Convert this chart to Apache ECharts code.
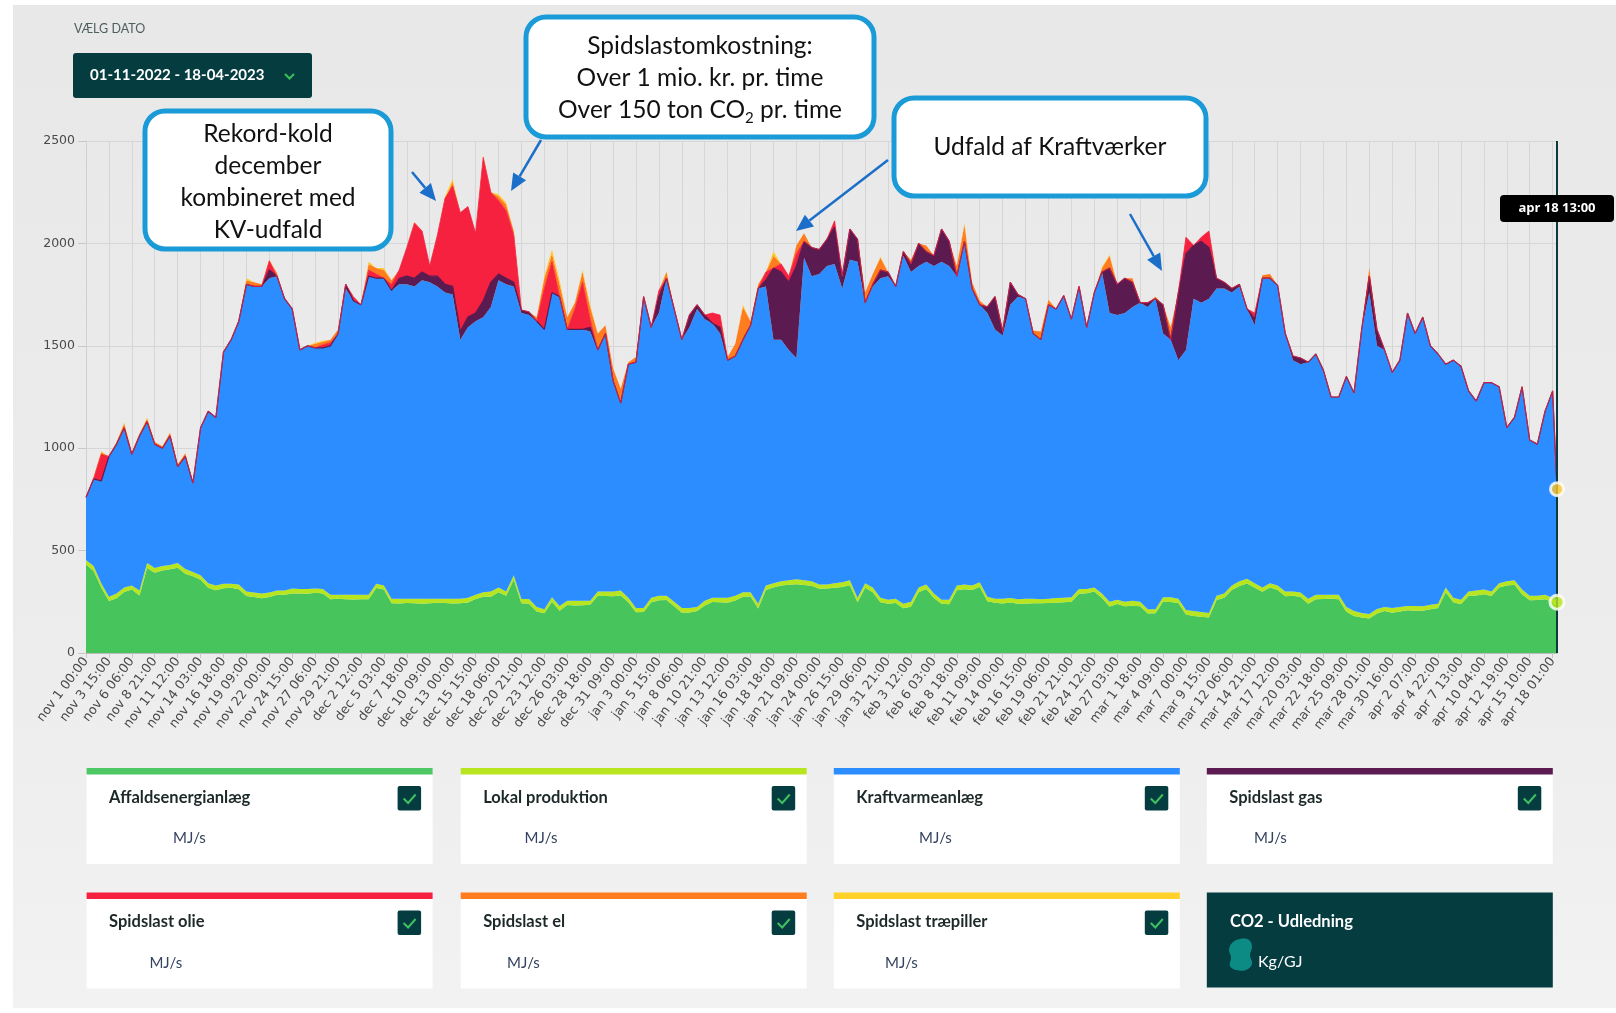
<!DOCTYPE html>
<html><head><meta charset="utf-8">
<script src="https://cdn.jsdelivr.net/npm/echarts@6/dist/echarts.min.js"></script>
<style>
html,body{margin:0;padding:0;background:#fff;width:1616px;height:1013px;overflow:hidden}
#bg{position:absolute;left:13px;top:5px;width:1603px;height:1003px;background:linear-gradient(#e8e8e8,#ececec 60%,#f2f2f2)}
#c{position:absolute;left:0;top:0;width:1616px;height:1013px}
</style></head>
<body><div id="bg"></div><div id="c"></div>
<script>
// ---- x-axis tick labels (one every 63 hours from nov 1 00:00) ----
const tickLabels = ["nov 1 00:00","nov 3 15:00","nov 6 06:00","nov 8 21:00","nov 11 12:00","nov 14 03:00","nov 16 18:00","nov 19 09:00","nov 22 00:00","nov 24 15:00","nov 27 06:00","nov 29 21:00","dec 2 12:00","dec 5 03:00","dec 7 18:00","dec 10 09:00","dec 13 00:00","dec 15 15:00","dec 18 06:00","dec 20 21:00","dec 23 12:00","dec 26 03:00","dec 28 18:00","dec 31 09:00","jan 3 00:00","jan 5 15:00","jan 8 06:00","jan 10 21:00","jan 13 12:00","jan 16 03:00","jan 18 18:00","jan 21 09:00","jan 24 00:00","jan 26 15:00","jan 29 06:00","jan 31 21:00","feb 3 12:00","feb 6 03:00","feb 8 18:00","feb 11 09:00","feb 14 00:00","feb 16 15:00","feb 19 06:00","feb 21 21:00","feb 24 12:00","feb 27 03:00","mar 1 18:00","mar 4 09:00","mar 7 00:00","mar 9 15:00","mar 12 06:00","mar 14 21:00","mar 17 12:00","mar 20 03:00","mar 22 18:00","mar 25 09:00","mar 28 01:00","mar 30 16:00","apr 2 07:00","apr 4 22:00","apr 7 13:00","apr 10 04:00","apr 12 19:00","apr 15 10:00","apr 18 01:00"];
const yTicks = [0,500,1000,1500,2000,2500];
const TICK_HOURS = 63;      // label spacing
const STEP_HOURS = 21;      // sample spacing of the arrays below
const END_HOUR = 4044;      // apr 18 13:00 (last sample)
const endLabel = "apr 18 13:00";

// ---- series values (MJ/s), one value per 21 h sample, last one at apr 18 13:00 ----
const affald = [432,401,320,254,267,298,310,281,415,392,403,409,416,387,375,358,319,307,316,318,311,278,274,267,273,285,284,291,290,289,294,290,262,265,263,261,262,263,317,310,243,242,244,243,241,243,245,244,242,243,246,264,275,275,297,280,358,243,241,203,194,250,206,234,232,233,235,279,278,277,281,248,199,200,248,257,259,228,196,198,205,232,249,248,245,256,275,276,217,308,320,329,333,336,332,328,314,315,318,322,331,248,319,297,248,240,244,218,226,297,313,269,240,238,307,311,308,324,253,245,242,246,241,241,243,243,244,245,248,250,289,292,300,268,227,239,228,231,228,193,194,250,249,244,188,181,177,173,259,270,308,327,339,318,299,320,308,277,279,273,241,263,264,265,263,202,181,173,169,193,205,197,203,209,206,206,214,220,297,248,238,279,281,287,278,320,329,333,287,258,259,263,250,226];
const lokal = [22,24,20,21,23,22,20,24,25,23,22,21,24,23,20,22,21,23,22,20,24,22,21,23,22,20,21,24,22,23,21,22,23,20,22,24,23,22,21,20,22,23,21,22,24,22,20,21,23,22,24,21,22,25,23,20,22,21,23,22,20,22,24,21,23,22,20,21,22,23,24,22,21,20,22,23,21,22,24,22,20,23,21,22,25,24,22,21,23,22,20,21,22,24,23,22,21,20,22,23,24,22,21,23,22,20,21,22,24,23,22,21,20,22,23,24,22,21,22,20,23,22,21,24,22,20,21,23,22,22,24,21,20,22,23,21,22,24,22,21,20,22,23,21,22,24,23,22,21,20,22,23,24,22,21,20,22,23,21,22,24,22,21,20,22,23,24,22,21,22,20,23,22,21,24,22,21,20,23,22,22,21,24,23,22,20,21,22,23,22,21,22,20,22];
const kraftvarme = [306,425,500,685,730,780,640,755,690,605,575,630,470,550,435,720,840,820,1132,1192,1285,1500,1495,1500,1535,1535,1425,1365,1168,1188,1175,1178,1215,1275,1495,1435,1415,1555,1492,1500,1505,1535,1535,1525,1555,1545,1525,1495,1485,1265,1320,1335,1343,1390,1500,1500,1410,1396,1386,1395,1366,1488,1510,1325,1325,1325,1315,1180,1260,1030,915,1140,1200,1510,1320,1380,1550,1430,1310,1370,1455,1375,1340,1290,1160,1170,1233,1303,1540,1460,1190,1180,1125,1080,1575,1490,1515,1555,1560,1435,1565,1640,1370,1470,1560,1580,1525,1700,1610,1570,1575,1600,1650,1630,1510,1675,1450,1355,1385,1315,1285,1432,1478,1465,1295,1267,1435,1412,1475,1358,1477,1277,1440,1570,1410,1390,1410,1435,1460,1476,1516,1288,1258,1165,1270,1525,1510,1535,1500,1490,1430,1440,1317,1260,1510,1490,1465,1260,1130,1115,1155,1175,1095,965,965,1125,1065,1385,1570,1285,1255,1150,1205,1430,1330,1412,1265,1220,1090,1160,1140,980,925,1010,1020,960,750,795,990,760,740,895,1010,552];
const spidsGas = [0,0,0,0,0,0,0,0,0,0, 0,0,0,0,0,0,0,0,0,0, 0,0,0,0,40,0,0,0,0,0, 0,0,0,0,20,0,0,0,0,0, 0,30,40,40,40,30,50,40,40,40, 50,40,80,120,30,30,20,15,15,0, 0,0,0,0,0,0,20,0,0,0, 0,0,0,10,0,80,0,0,0,60, 20,20,0,30,0,0,0,0,0,30, 350,330,330,450,80,140,120,130,180,60, 150,110,0,10,40,20,0,20,40,110, 50,50,160,120,0,0,0,0,30,160, 20,110,10,0,0,0,0,0,0,0, 0,0,0,0,220,150,170,120,0,20, 0,140,0,330,470,260,300,250,50,30, 20,10,0,30,0,0,0,0,20,30, 0,0,0,0,0,0,0,0,80,80, 0,0,0,0,0,0,0,0,0,0, 0,0,0,0,0,0,0,0,0,0, 0,0,0,0];
const spidsOlie = [0,0,130,0,0,0,0,0,0,0, 0,0,0,0,0,0,0,0,0,0, 0,0,0,0,45,0,0,0,0,0, 0,15,15,0,0,20,0,30,20,0, 30,40,140,270,200,50,200,420,490,580, 540,390,700,440,360,330,230,0,0,0, 200,150,0,0,100,230,40,0,0,0, 0,0,0,0,0,30,0,0,0,0, 0,0,50,60,0,0,0,0,0,40, 0,40,30,60,0,0,0,0,30,0, 0,0,0,0,0,0,0,0,0,0, 0,0,0,0,0,0,0,0,0,0, 0,0,0,0,0,0,0,0,0,0, 0,0,0,0,0,0,0,0,0,0, 0,0,0,0,80,0,20,80,0,0, 0,0,0,30,0,0,0,0,0,0, 0,0,0,0,0,0,0,0,0,0, 0,0,0,0,0,0,0,0,0,0, 0,0,0,0,0,0,0,0,0,0, 0,0,0,0];
const spidsEl = [0,10,10,0,10,20,10,10,15,10, 10,15,10,15,0,0,0,0,0,0, 5,20,20,10,0,15,0,0,0,0, 20,15,15,20,0,0,0,30,30,40, 20,0,0,0,0,0,0,0,20,0, 0,0,0,0,20,30,20,0,0,20, 50,40,60,60,30,50,60,80,40,60, 70,10,25,0,0,0,30,0,0,0, 0,0,0,0,15,60,160,20,20,0, 60,0,0,40,40,0,0,0,0,0, 0,0,50,50,60,0,0,0,20,0, 30,0,0,0,50,80,30,20,0,0, 0,0,0,0,15,40,25,0,0,0, 0,0,0,20,60,0,0,20,0,0, 10,0,60,0,0,0,0,0,0,0, 0,0,0,0,15,20,0,0,0,0, 0,0,0,0,0,0,0,0,40,0, 0,0,0,0,0,0,0,0,0,0, 0,0,0,0,0,0,0,0,0,0, 0,0,0,0];
const spidsTrae = [0,0,5,0,0,5,0,0,5,0, 0,0,0,0,0,0,0,0,0,0, 0,10,0,0,5,0,0,0,0,0, 5,5,0,0,0,0,0,10,0,10, 0,0,0,5,0,0,0,10,15,0, 0,0,10,0,10,10,0,0,0,0, 10,20,20,0,0,10,10,0,0,0, 0,0,0,0,0,0,5,0,0,0, 0,0,0,0,0,0,10,0,0,0, 20,0,0,0,0,0,0,0,0,0, 0,0,0,0,5,0,0,0,0,0, 0,0,0,0,0,10,0,0,0,0, 0,0,0,0,0,0,0,0,0,0, 0,0,0,5,5,0,0,0,0,0, 0,0,0,0,0,0,0,0,0,0, 0,0,0,0,0,0,0,0,0,0, 0,0,0,0,0,0,0,0,0,0, 0,0,0,0,0,0,0,0,0,0, 0,0,0,0,0,0,0,0,0,0, 0,0,0,0];

// ---- legend card texts ----
const cardTitles = ["Affaldsenergianlæg","Lokal produktion","Kraftvarmeanlæg","Spidslast gas","Spidslast olie","Spidslast el","Spidslast træpiller"];
const cardUnit = "MJ/s";
const colors = {
  affald:'#47c55c', lokal:'#b7e621', kraft:'#2b8dff', gas:'#5b1a50', olie:'#f5213e', el:'#ff7d1f', trae:'#ffc928'
};
const barColors = ['#4cc763','#b7e621','#2b8dff','#5b1a50','#f5213e','#ff7d1f','#ffd12a'];

// hourly category axis: one category per hour from nov 1 00:00 to apr 18 13:00
const hours = [];
for (let h = 0; h <= END_HOUR; h++) hours.push(String(h));

const N = kraftvarme.length;
const xs = kraftvarme.map((_, i) => i < N - 1 ? i * STEP_HOURS : END_HOUR);
const pair = arr => arr.map((v, i) => [xs[i], v]);

function area(name, data, color, lineW, lineColor) {
  return {
    name, type: 'line', stack: 'total', data: pair(data), symbol: 'none', showSymbol: false,
    areaStyle: { color, opacity: 1 }, lineStyle: { width: lineW, color: lineColor || color },
    itemStyle: { color }, emphasis: { disabled: true }, silent: true, animation: false
  };
}
const last = N - 1;
const endTotal = affald[last] + lokal[last] + kraftvarme[last] + spidsGas[last] + spidsOlie[last] + spidsEl[last] + spidsTrae[last];
const endLocal = affald[last] + lokal[last];

// ---- overlay graphics ----
const FONT_UI = 'Lato, "Open Sans", sans-serif';
const FONT_CALL = 'Lato, "Open Sans", sans-serif';
const G = [];
// date picker
G.push({type:'text', z:100, style:{text:'VÆLG DATO', x:74, y:29, fontSize:12.5, fontFamily:FONT_UI, fill:'#4f5e5e', verticalAlign:'middle'}});
G.push({type:'rect', z:100, shape:{x:73, y:53, width:239, height:45, r:3}, style:{fill:'#053c40'}});
G.push({type:'text', z:101, style:{text:'01-11-2022 - 18-04-2023', x:90, y:75.5, fontSize:15, fontWeight:'bold', fontFamily:FONT_UI, fill:'#ffffff', verticalAlign:'middle'}});
G.push({type:'polyline', z:101, shape:{points:[[285,74],[289.5,78.5],[294,74]]}, style:{stroke:'#3cbf55', lineWidth:2, fill:null}});

// tooltip label at the cursor
G.push({type:'rect', z:100, shape:{x:1500, y:195, width:114, height:27, r:4}, style:{fill:'#000'}});
G.push({type:'text', z:101, style:{text:endLabel, x:1557, y:208.5, fontSize:13, fontWeight:'bold', fontFamily:'"Open Sans", sans-serif', fill:'#fff', align:'center', verticalAlign:'middle'}});

// callouts
const CB = '#1a9bd7';
function callout(x, y, w, h, text, cx, ty, rich) {
  G.push({type:'rect', z:100, shape:{x, y, width:w, height:h, r:20}, style:{fill:'#fff', stroke:CB, lineWidth:5}});
  const st = {text, x:cx, y:ty, fontSize:24.5, fontFamily:FONT_CALL, fill:'#111', align:'center', verticalAlign:'top', lineHeight:32};
  if (rich) st.rich = rich;
  G.push({type:'text', z:101, style:st});
}
callout(145, 111, 246, 138, 'Rekord-kold\ndecember\nkombineret med\nKV-udfald', 268, 118);
callout(526, 17, 348, 120, 'Spidslastomkostning:\nOver 1 mio. kr. pr. time\nOver 150 ton CO{sub|2} pr. time', 700, 30,
  {sub:{fontSize:15, fontFamily:FONT_CALL, fill:'#111', verticalAlign:'bottom', lineHeight:32, padding:[0,0,0,0]}});
callout(894, 98, 312, 98, 'Udfald af Kraftværker', 1050, 131);

// arrows
const AC = '#1b6fc8';
function arrow(x1, y1, x2, y2) {
  const a = Math.atan2(y2 - y1, x2 - x1), L = 17, W = 7.5;
  const bx = x2 - L * Math.cos(a), by = y2 - L * Math.sin(a);
  G.push({type:'line', z:100, shape:{x1, y1, x2:bx, y2:by}, style:{stroke:AC, lineWidth:2.5}});
  G.push({type:'polygon', z:100, shape:{points:[[x2,y2],[bx + W*Math.sin(a), by - W*Math.cos(a)],[bx - W*Math.sin(a), by + W*Math.cos(a)]]}, style:{fill:AC}});
}
arrow(412, 172, 436, 201);
arrow(541, 140, 511, 191);
arrow(888, 160, 796, 231);
arrow(1130, 214, 1162, 271);

// legend cards
const colX = [86.6, 460.7, 833.8, 1206.8];
const CW = 346;
const rowsY = [768, 892.5];
const unitX = [173, 524.6, 919, 1254, 149.4, 507, 885];
cardTitles.forEach((t, i) => {
  const r = Math.floor(i / 4), c = i % 4, x = colX[c], y = rowsY[r];
  G.push({type:'rect', z:100, shape:{x, y:y + 6, width:CW, height:90}, style:{fill:'#fff'}});
  G.push({type:'rect', z:100, shape:{x, y, width:CW, height:6.5}, style:{fill:barColors[i]}});
  G.push({type:'text', z:101, style:{text:t, x:x + 22.5, y:y + 29.5, fontSize:16.5, fontWeight:'bold', fontFamily:FONT_UI, fill:'#1d2929', verticalAlign:'middle'}});
  G.push({type:'text', z:101, style:{text:cardUnit, x:unitX[i], y:y + 70.5, fontSize:15, fontFamily:FONT_UI, fill:'#33425f', verticalAlign:'middle'}});
  const bx = x + 311, by = y + 18;
  G.push({type:'rect', z:101, shape:{x:bx, y:by, width:23.5, height:24.5, r:2}, style:{fill:'#053c40'}});
  G.push({type:'polyline', z:102, shape:{points:[[bx+6,by+12.5],[bx+10.5,by+17],[bx+18,by+8.5]]}, style:{stroke:'#40c060', lineWidth:2, fill:null}});
});
// CO2 card
G.push({type:'rect', z:100, shape:{x:colX[3], y:rowsY[1], width:CW, height:95}, style:{fill:'#053c40'}});
G.push({type:'text', z:101, style:{text:'CO2 - Udledning', x:1230, y:922, fontSize:16.5, fontWeight:'bold', fontFamily:FONT_UI, fill:'#fff', verticalAlign:'middle'}});
G.push({type:'polygon', z:101, shape:{points:[[1232,943],[1240,939],[1249,940],[1252,947],[1250,955],[1252,964],[1246,970],[1236,970],[1230,966],[1231,957],[1229,950]], smooth:0.4}, style:{fill:'#0c8a84'}});
G.push({type:'text', z:101, style:{text:'Kg/GJ', x:1258, y:962, fontSize:16, fontFamily:FONT_UI, fill:'#fff', verticalAlign:'middle'}});

const chart = echarts.init(document.getElementById('c'), null, {renderer:'canvas'});
chart.setOption({
  backgroundColor: 'transparent',
  animation: false,
  grid: { left: 86, right: 59, top: 141, bottom: 360, containLabel: false },
  xAxis: {
    type: 'category', data: hours, boundaryGap: false,
    axisLine: { show: true, lineStyle: { color: '#bdbdbd' } },
    axisTick: { show: true, length: 5, interval: TICK_HOURS - 1, alignWithLabel: true, lineStyle: { color: '#c8c8c8' } },
    splitLine: { show: true, interval: TICK_HOURS - 1, lineStyle: { color: '#d6d6d6', width: 1 } },
    axisLabel: {
      rotate: 53, fontSize: 12.8, color: '#4a4a4a', fontFamily: '"DejaVu Sans", sans-serif', margin: 6,
      interval: TICK_HOURS - 1, hideOverlap: false,
      formatter: v => { const h = Number(v); return (h % TICK_HOURS === 0 && tickLabels[h / TICK_HOURS]) ? tickLabels[h / TICK_HOURS] : ''; }
    }
  },
  yAxis: {
    type: 'value', min: yTicks[0], max: yTicks[yTicks.length - 1], interval: yTicks[1] - yTicks[0],
    axisLine: { show: true, lineStyle: { color: '#d0d0d0' } },
    axisTick: { show: true, inside: false, length: 8, lineStyle: { color: '#c8c8c8' } },
    splitLine: { show: true, lineStyle: { color: '#d6d6d6', width: 1 } },
    axisLabel: { fontSize: 12.5, color: '#4a4a4a', fontFamily: '"DejaVu Sans", sans-serif', margin: 11, formatter: v => String(v) }
  },
  series: [
    area('Affaldsenergianlæg', affald, colors.affald, 0),
    area('Lokal produktion', lokal, colors.lokal, 0),
    area('Kraftvarmeanlæg', kraftvarme, colors.kraft, 0),
    area('Spidslast gas', spidsGas, colors.gas, 1.2),
    area('Spidslast olie', spidsOlie, colors.olie, 0.8),
    area('Spidslast el', spidsEl, colors.el, 0),
    area('Spidslast træpiller', spidsTrae, colors.trae, 0),
    {
      type: 'scatter', silent: true, z: 10, animation: false,
      data: [[END_HOUR, endTotal]], symbolSize: 13,
      itemStyle: { color: '#ffc72c', borderColor: '#fff', borderWidth: 3 },
      markLine: { silent: true, symbol: ['none', 'none'], label: { show: false },
        lineStyle: { color: '#0b3a3d', width: 2, type: 'solid' }, data: [{ xAxis: END_HOUR }] }
    },
    {
      type: 'scatter', silent: true, z: 10, animation: false,
      data: [[END_HOUR, endLocal]], symbolSize: 14,
      itemStyle: { color: '#b7e621', borderColor: '#fff', borderWidth: 3 }
    }
  ],
  graphic: { elements: G }
});
</script>
</body></html>
